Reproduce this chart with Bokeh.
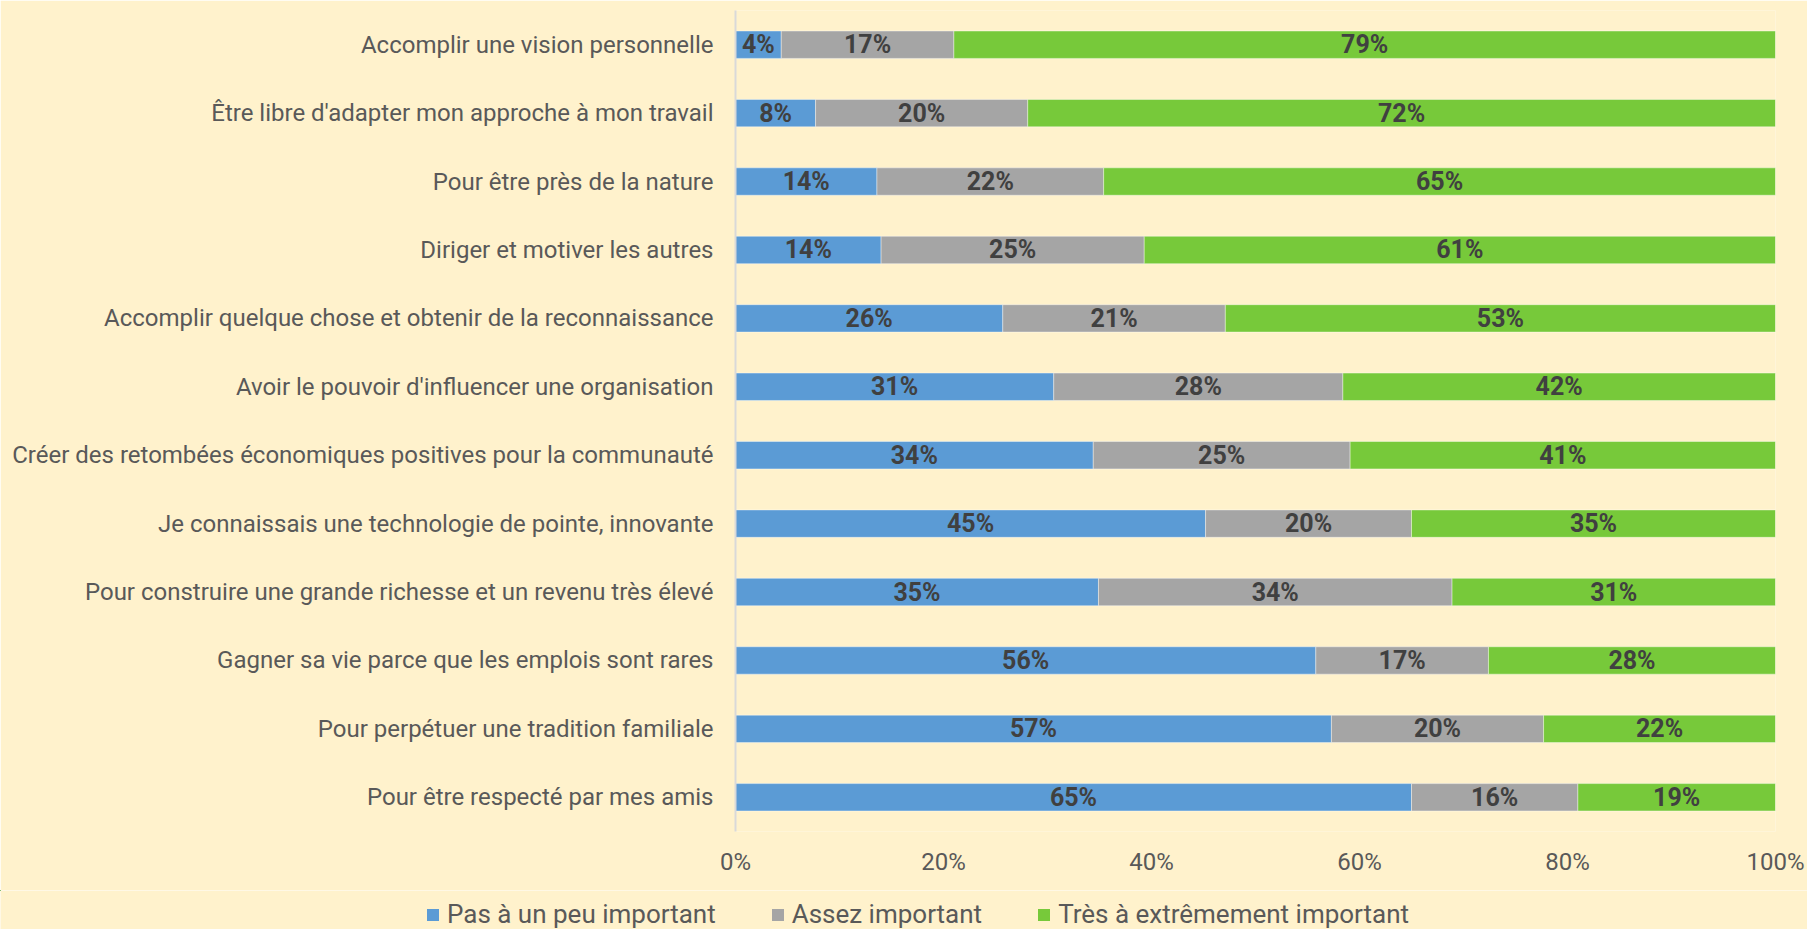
from bokeh.plotting import figure
from bokeh.models import ColumnDataSource, LabelSet, NumeralTickFormatter, Range1d, FixedTicker, Legend, LegendItem
from bokeh.core.properties import value
from bokeh.embed import file_html
from bokeh.resources import INLINE

categories = [
    "Accomplir une vision personnelle",
    "Être libre d'adapter mon approche à mon travail",
    "Pour être près de la nature",
    "Diriger et motiver les autres",
    "Accomplir quelque chose et obtenir de la reconnaissance",
    "Avoir le pouvoir d'influencer une organisation",
    "Créer des retombées économiques positives pour la communauté",
    "Je connaissais une technologie de pointe, innovante",
    "Pour construire une grande richesse et un revenu très élevé",
    "Gagner sa vie parce que les emplois sont rares",
    "Pour perpétuer une tradition familiale",
    "Pour être respecté par mes amis",
]
pas_important = [4.4, 7.7, 13.6, 14.0, 25.7, 30.6, 34.4, 45.2, 34.9, 55.8, 57.3, 65.0]
assez_important = [16.6, 20.4, 21.8, 25.3, 21.4, 27.8, 24.7, 19.8, 34.0, 16.6, 20.4, 16.0]
tres_important = [79.0, 71.9, 64.6, 60.7, 52.9, 41.6, 40.9, 35.0, 31.1, 27.6, 22.3, 19.0]
series_names = ["Pas à un peu important", "Assez important", "Très à extrêmement important"]
colors = ["#5B9BD5", "#A5A5A5", "#77C93A"]
x_ticks = [0, 0.2, 0.4, 0.6, 0.8, 1.0]

FONT = "Roboto"
BG = "#FFF2CC"

a = [v / 100 for v in pas_important]
b = [v / 100 for v in assez_important]
c = [v / 100 for v in tres_important]
src = ColumnDataSource(dict(cat=categories, s1=a, s2=b, s3=c))

p = figure(
    width=1807, height=890,
    y_range=list(reversed(categories)),
    x_range=Range1d(0, 1),
    output_backend="svg", toolbar_location=None,
    min_border_left=735, min_border_right=32, min_border_top=10, min_border_bottom=59,
)
p.hbar_stack(["s1", "s2", "s3"], y="cat", height=0.4, color=colors, source=src,
             line_color="white", line_alpha=0.4, line_width=1)

mid1 = [x / 2 for x in a]
mid2 = [x + y / 2 for x, y in zip(a, b)]
mid3 = [x + y + z / 2 for x, y, z in zip(a, b, c)]
lab_src = ColumnDataSource(dict(
    cat=categories * 3,
    x=mid1 + mid2 + mid3,
    t=[f"{round(v)}%" for v in pas_important + assez_important + tres_important],
))
labels = LabelSet(x="x", y="cat", text="t", source=lab_src,
                  text_align="center", text_baseline="middle",
                  text_font=value(FONT), text_font_size="25px", text_font_style="bold",
                  text_color="#404040")
p.add_layout(labels)

p.background_fill_color = BG
p.border_fill_color = BG
p.outline_line_color = None
p.xgrid.grid_line_color = None
p.ygrid.grid_line_color = None

p.xaxis.ticker = FixedTicker(ticks=x_ticks)
p.xaxis.formatter = NumeralTickFormatter(format="0%")
p.xaxis.axis_line_color = None
p.xaxis.major_tick_line_color = None
p.xaxis.minor_tick_line_color = None
p.xaxis.major_tick_out = 0
p.xaxis.major_tick_in = 0
p.xaxis.major_label_standoff = 16
p.xaxis.major_label_text_font = FONT
p.xaxis.major_label_text_font_size = "24px"
p.xaxis.major_label_text_color = "#595959"

p.yaxis.axis_line_color = "#D9D9D9"
p.yaxis.axis_line_width = 2
p.yaxis.major_tick_line_color = None
p.yaxis.minor_tick_line_color = None
p.yaxis.major_tick_out = 0
p.yaxis.major_tick_in = 0
p.yaxis.major_label_standoff = 22
p.yaxis.major_label_text_font = FONT
p.yaxis.major_label_text_font_size = "24px"
p.yaxis.major_label_text_color = "#595959"

# legend strip: a second root; its bars lie outside its ranges, so only the legend shows
src2 = ColumnDataSource(dict(pos=list(range(len(categories))), s1=a, s2=b, s3=c))
p2 = figure(
    width=1807, height=39,
    x_range=Range1d(10, 11), y_range=Range1d(-20, -19),
    output_backend="svg", toolbar_location=None,
    min_border=0,
)
rs = p2.hbar_stack(["s1", "s2", "s3"], y="pos", height=0.4, color=colors, source=src2,
                   line_color=None)
p2.axis.visible = False
p2.grid.grid_line_color = None
p2.outline_line_color = None
p2.background_fill_color = BG
p2.border_fill_color = BG

lg = Legend(items=[LegendItem(label=n, renderers=[r], index=0) for n, r in zip(series_names, rs)])
lg.location = (425, 0)
lg.orientation = "horizontal"
lg.background_fill_alpha = 0
lg.border_line_color = None
lg.padding = 0
lg.margin = 0
lg.spacing = 54
lg.label_standoff = 7
lg.glyph_width = 15
lg.glyph_height = 15
lg.label_height = 30
lg.label_text_font = FONT
lg.label_text_font_size = "26px"
lg.label_text_color = "#595959"
p2.add_layout(lg, "center")

html = file_html([p, p2], INLINE)
html = html.replace("<body>", '<body style="background:#FFF2CC">', 1)
open("out.html", "w").write(html)
